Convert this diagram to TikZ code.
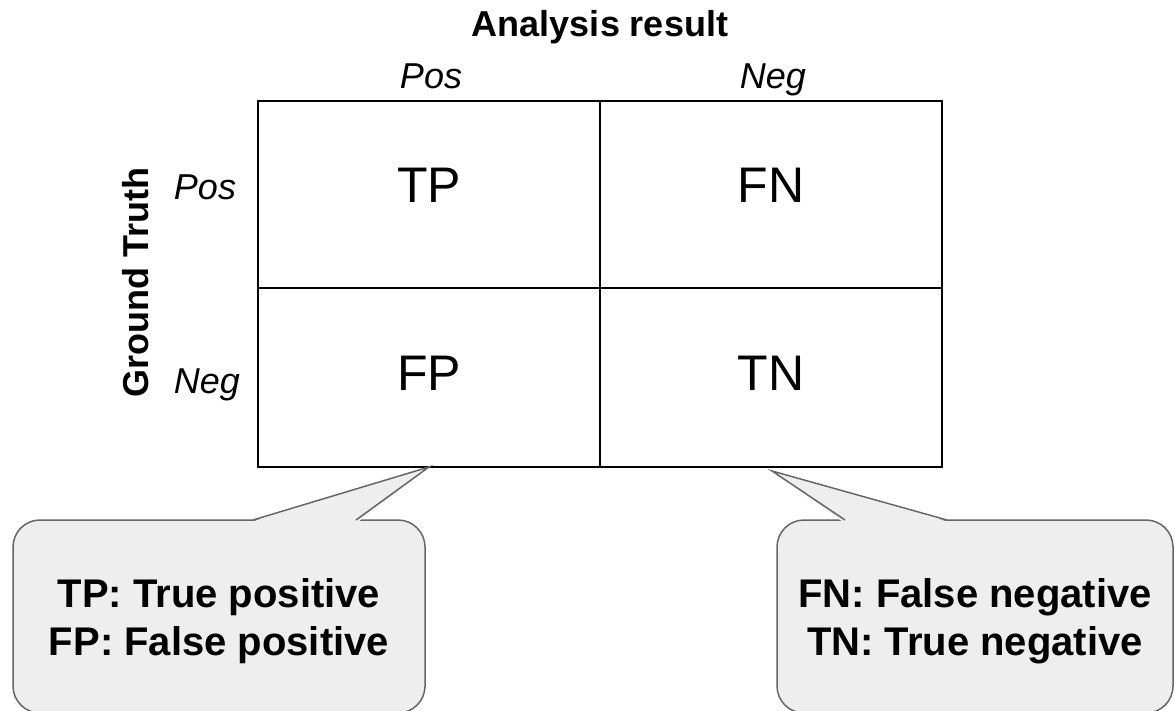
\documentclass[tikz,border=0pt]{standalone}
\usepackage{fontspec}
\setmainfont{Liberation Sans}
\usetikzlibrary{calc}
\definecolor{notefill}{HTML}{EEEEEE}
\definecolor{noteline}{HTML}{666666}
\begin{document}
\begin{tikzpicture}[x=1pt, y=-1pt,
		cell/.style={shape=rectangle, draw, line width=1.5pt, minimum width=342pt, outer sep=0pt},
		celltext/.style={font=\fontsize{50}{60}\selectfont},
		axislabel/.style={anchor=base, font=\fontsize{36}{43}\selectfont\itshape},
		heading/.style={anchor=base, font=\fontsize{36}{43}\selectfont\bfseries},
		note/.style={shape=rectangle, rounded corners=27pt, draw=noteline, fill=notefill, line width=1.5pt, outer sep=0pt, align=center, text height=87pt, minimum height=193pt, font=\fontsize{40}{48}\selectfont\bfseries},
		pointer/.style={draw=noteline, line width=1.5pt, line join=miter}]
	\useasboundingbox (0,0) rectangle (1175,711);
	
	% confusion matrix
	\node (cTP)[cell, minimum height=187pt] at (429,194.5) {};
	\node (cFN)[cell, minimum height=187pt] at (771,194.5) {};
	\node (cFP)[cell, minimum height=179pt] at (429,377.5) {};
	\node (cTN)[cell, minimum height=179pt] at (771,377.5) {};
	
	\node (tTP)[celltext] at ([yshift=9.5pt]cTP.center) {TP};
	\node (tFN)[celltext] at ([yshift=9.5pt]cFN.center) {FN};
	\node (tFP)[celltext] at ([yshift=4pt]cFP.center) {FP};
	\node (tTN)[celltext] at ([yshift=4pt]cTN.center) {TN};
	
	% headings
	\node (hResult)[heading] at (600,37) {Analysis result};
	\node (hTruth)[heading, rotate=90] at (148,282.5) {Ground Truth};
	\node (rPos)[axislabel] at (431,89) {Pos};
	\node (rNeg)[axislabel] at (773,89) {Neg};
	\node (gPos)[axislabel] at (205,200) {Pos};
	\node (gNeg)[axislabel] at (207,393) {Neg};
	
	% callouts
	\node (nLeft)[note, minimum width=412pt] at (219,616.5) {
		TP: True positive \\ FP: False positive
	};
	\node (nRight)[note, minimum width=396pt] at (975,616.5) {
		FN: False negative \\ TN: True negative
	};
	
	\coordinate (pL1) at ($(nLeft.north west)+(240,0)$);
	\coordinate (pL2) at ($(nLeft.north west)+(343,0)$);
	\coordinate (pR1) at ($(nRight.north west)+(68,0)$);
	\coordinate (pR2) at ($(nRight.north west)+(170,0)$);
	\coordinate (tipR) at ($(cTN.south)+(1,4)$);
	
	\fill[notefill] ($(pL1)+(-2,2)$) -- (cFP.south) -- ($(pL2)+(2,2)$) -- cycle;
	\fill[notefill] ($(pR1)+(-2,2)$) -- (tipR) -- ($(pR2)+(2,2)$) -- cycle;
	\path[pointer] (pL1) -- (cFP.south) -- (pL2);
	\path[pointer] (pR1) -- (tipR) -- (pR2);
\end{tikzpicture}
\end{document}
